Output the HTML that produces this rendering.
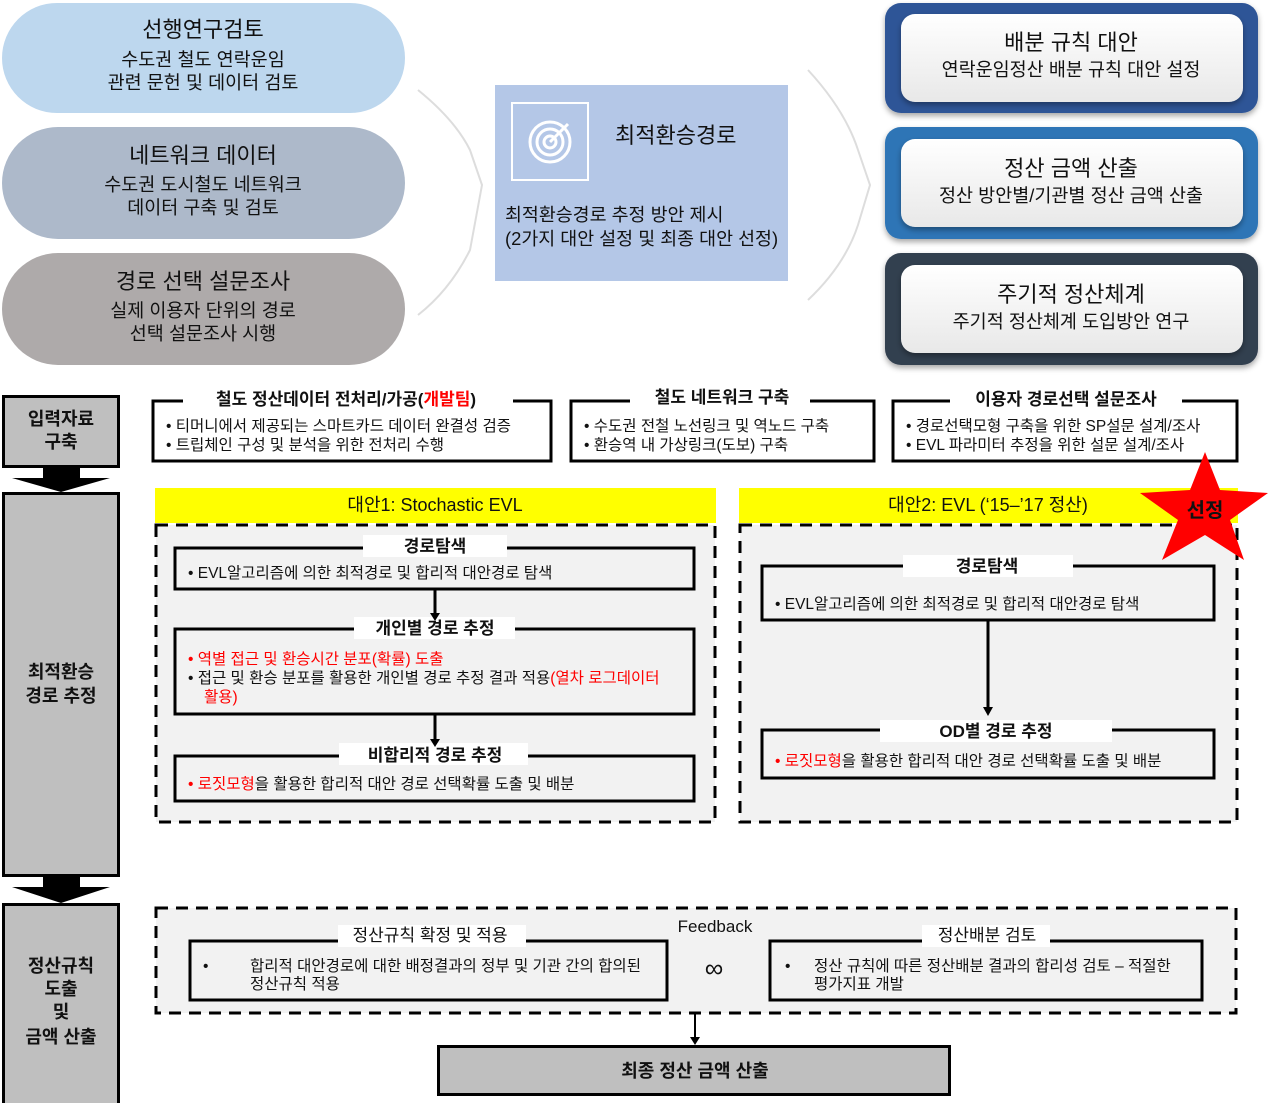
<!DOCTYPE html>
<html><head><meta charset="utf-8"><style>
body{margin:0;background:#fff}
svg{display:block;font-family:"Liberation Sans","Noto Sans CJK KR",sans-serif}
</style></head><body>
<svg width="1271" height="1103" viewBox="0 0 1271 1103" xmlns="http://www.w3.org/2000/svg">
<defs>
<filter id="sh" x="-10%" y="-10%" width="120%" height="130%"><feDropShadow dx="0" dy="3" stdDeviation="3" flood-color="#000" flood-opacity="0.35"/></filter>
<linearGradient id="wg" x1="0" y1="0" x2="0" y2="1"><stop offset="0" stop-color="#ffffff"/><stop offset="1" stop-color="#e8e8e8"/></linearGradient>
</defs>
<rect x="2" y="3" width="403" height="110" rx="55" fill="#bdd7ee"/>
<rect x="2" y="127" width="403" height="112" rx="56" fill="#adb9ca"/>
<rect x="2" y="253" width="403" height="112" rx="56" fill="#aeaaaa"/>
<g text-anchor="middle" fill="#111">
<text x="203" y="37" font-size="22">선행연구검토</text>
<text x="203" y="66" font-size="18.5">수도권 철도 연락운임</text>
<text x="203" y="89" font-size="18.5">관련 문헌 및 데이터 검토</text>
<text x="203" y="163" font-size="22">네트워크 데이터</text>
<text x="203" y="191" font-size="18.5">수도권 도시철도 네트워크</text>
<text x="203" y="214" font-size="18.5">데이터 구축 및 검토</text>
<text x="203" y="289" font-size="22">경로 선택 설문조사</text>
<text x="203" y="317" font-size="18.5">실제 이용자 단위의 경로</text>
<text x="203" y="340" font-size="18.5">선택 설문조사 시행</text>
</g>
<path d="M418 90 Q455 120 470 150 L482 185 L470 250 Q450 290 418 315" fill="none" stroke="#ddd" stroke-width="2"/>
<path d="M808 70 Q845 110 858 150 L870 185 L858 225 Q845 265 808 300" fill="none" stroke="#ddd" stroke-width="2"/>
<rect x="495" y="85" width="293" height="196" fill="#b4c7e7"/>
<rect x="512" y="103" width="76" height="77" fill="none" stroke="#fff" stroke-width="2"/>
<g fill="none" stroke="#fff" stroke-width="3"><circle cx="550" cy="142" r="20"/><circle cx="550" cy="142" r="13"/><circle cx="550" cy="142" r="6"/></g>
<line x1="550" y1="142" x2="568" y2="124" stroke="#fff" stroke-width="3"/>
<text x="615" y="143" font-size="22" fill="#111">최적환승경로</text>
<text x="505" y="221" font-size="18.4" fill="#111">최적환승경로 추정 방안 제시</text>
<text x="505" y="245" font-size="18.4" fill="#111">(2가지 대안 설정 및 최종 대안 선정)</text>
<rect x="885" y="3" width="373" height="110" rx="16" fill="#2f5597" filter="url(#sh)"/>
<rect x="885" y="127" width="373" height="112" rx="16" fill="#2e75b6" filter="url(#sh)"/>
<rect x="885" y="253" width="373" height="112" rx="16" fill="#333f50" filter="url(#sh)"/>
<rect x="901" y="14" width="342" height="88" rx="14" fill="url(#wg)" filter="url(#sh)"/>
<rect x="901" y="139" width="342" height="88" rx="14" fill="url(#wg)" filter="url(#sh)"/>
<rect x="901" y="265" width="342" height="88" rx="14" fill="url(#wg)" filter="url(#sh)"/>
<g text-anchor="middle" fill="#111">
<text x="1071" y="50" font-size="22">배분 규칙 대안</text>
<text x="1071" y="76" font-size="18.5">연락운임정산 배분 규칙 대안 설정</text>
<text x="1071" y="176" font-size="22">정산 금액 산출</text>
<text x="1071" y="202" font-size="18.5">정산 방안별/기관별 정산 금액 산출</text>
<text x="1071" y="302" font-size="22">주기적 정산체계</text>
<text x="1071" y="328" font-size="18.5">주기적 정산체계 도입방안 연구</text>
</g>
<rect x="3.5" y="396.5" width="115" height="70" fill="#bfbfbf" stroke="#000" stroke-width="3"/>
<rect x="3.5" y="493.5" width="115" height="382" fill="#bfbfbf" stroke="#000" stroke-width="3"/>
<rect x="3.5" y="904.5" width="115" height="200" fill="#bfbfbf" stroke="#000" stroke-width="3"/>
<path d="M43 467 H80 V478 H110 L61 492 L12 478 H43Z" fill="#000"/>
<path d="M43 877 H80 V887 H110 L61 903 L12 887 H43Z" fill="#000"/>
<g text-anchor="middle" font-size="18" fill="#111" font-weight="bold">
<text x="61" y="425">입력자료</text><text x="61" y="448">구축</text>
<text x="61" y="678">최적환승</text><text x="61" y="702">경로 추정</text>
<text x="61" y="972">정산규칙</text><text x="61" y="995">도출</text><text x="61" y="1018">및</text><text x="61" y="1043">금액 산출</text>
</g>
<g fill="none" stroke="#000" stroke-width="3">
<rect x="153" y="401" width="398" height="60"/>
<rect x="571" y="401" width="303" height="60"/>
<rect x="893" y="401" width="344" height="60"/>
</g>
<rect x="183" y="388" width="330" height="22" fill="#fff"/>
<rect x="630" y="386" width="180" height="22" fill="#fff"/>
<rect x="950" y="388" width="232" height="22" fill="#fff"/>
<g font-size="17" fill="#111" font-weight="bold" text-anchor="middle">
<text x="346" y="405">철도 정산데이터 전처리/가공(<tspan fill="#ff0000">개발팀</tspan>)</text>
<text x="722" y="403">철도 네트워크 구축</text>
<text x="1066" y="405">이용자 경로선택 설문조사</text>
</g>
<g font-size="15.5" fill="#111">
<text x="166" y="431">•  티머니에서 제공되는 스마트카드 데이터 완결성 검증</text>
<text x="166" y="450">•  트립체인 구성 및 분석을 위한 전처리 수행</text>
<text x="584" y="431">•  수도권 전철 노선링크 및 역노드 구축</text>
<text x="584" y="450">•  환승역 내 가상링크(도보) 구축</text>
<text x="906" y="431">•  경로선택모형 구축을 위한 SP설문 설계/조사</text>
<text x="906" y="450">•  EVL 파라미터 추정을 위한 설문 설계/조사</text>
</g>
<rect x="155" y="488" width="561" height="35" fill="#ffff00"/>
<rect x="739" y="488" width="499" height="35" fill="#ffff00"/>
<text x="435" y="511" font-size="18" text-anchor="middle" fill="#111">대안1: Stochastic EVL</text>
<text x="988" y="511" font-size="18" text-anchor="middle" fill="#111">대안2: EVL (‘15–’17 정산)</text>
<g fill="#f2f2f2" stroke="#000" stroke-width="3" stroke-dasharray="12 8">
<rect x="156" y="525" width="559" height="297"/>
<rect x="740" y="525" width="497" height="297"/>
<rect x="156" y="908" width="1080" height="105"/>
</g>
<g fill="none" stroke="#000" stroke-width="3">
<rect x="175" y="548" width="519" height="41"/>
<rect x="175" y="629" width="519" height="85"/>
<rect x="175" y="756" width="519" height="45"/>
<rect x="762" y="566" width="452" height="54"/>
<rect x="762" y="730" width="452" height="48"/>
<rect x="190" y="941" width="477" height="59"/>
<rect x="770" y="941" width="432" height="59"/>
</g>
<g fill="#fff">
<rect x="363" y="535" width="144" height="22"/>
<rect x="354" y="617" width="161" height="22"/>
<rect x="339" y="743" width="189" height="22"/>
<rect x="903" y="555" width="170" height="22"/>
<rect x="880" y="720" width="232" height="22"/>
<rect x="338" y="925" width="188" height="22"/>
<rect x="922" y="925" width="128" height="22"/>
</g>
<g font-size="17" fill="#111" font-weight="bold" text-anchor="middle">
<text x="435" y="552">경로탐색</text>
<text x="435" y="634">개인별 경로 추정</text>
<text x="435" y="761">비합리적 경로 추정</text>
<text x="987" y="572">경로탐색</text>
<text x="996" y="737">OD별 경로 추정</text>
<text x="430" y="941" font-weight="normal">정산규칙 확정 및 적용</text>
<text x="987" y="941" font-weight="normal">정산배분 검토</text>
</g>
<g font-size="15.5" fill="#111">
<text x="188" y="578">•  EVL알고리즘에 의한 최적경로 및 합리적 대안경로 탐색</text>
<text x="188" y="664" fill="#ff0000">•  역별 접근 및 환승시간 분포(확률) 도출</text>
<text x="188" y="683">•  접근 및 환승 분포를 활용한 개인별 경로 추정 결과 적용<tspan fill="#ff0000">(열차 로그데이터</tspan></text>
<text x="204" y="702" fill="#ff0000">활용)</text>
<text x="188" y="789"><tspan fill="#ff0000">•  로짓모형</tspan>을 활용한 합리적 대안 경로 선택확률 도출 및 배분</text>
<text x="775" y="609">•  EVL알고리즘에 의한 최적경로 및 합리적 대안경로 탐색</text>
<text x="775" y="766"><tspan fill="#ff0000">•  로짓모형</tspan>을 활용한 합리적 대안 경로 선택확률 도출 및 배분</text>
<text x="203" y="971">•</text>
<text x="250" y="971">합리적 대안경로에 대한 배정결과의 정부 및 기관 간의 합의된</text>
<text x="250" y="989">정산규칙 적용</text>
<text x="785" y="971">•</text>
<text x="814" y="971">정산 규칙에 따른 정산배분 결과의 합리성 검토 – 적절한</text>
<text x="814" y="989">평가지표 개발</text>
</g>
<g stroke="#000" stroke-width="3">
<line x1="435" y1="589" x2="435" y2="614"/>
<line x1="435" y1="714" x2="435" y2="740"/>
<line x1="988" y1="620" x2="988" y2="708"/>
<line x1="695" y1="1013" x2="695" y2="1038" stroke-width="2"/>
</g>
<g fill="#000">
<path d="M430 613 L440 613 L435 621Z"/>
<path d="M430 739 L440 739 L435 747Z"/>
<path d="M983 707 L993 707 L988 716Z"/>
<path d="M690 1037 L700 1037 L695 1045Z"/>
</g>
<text x="715" y="932" font-size="17" text-anchor="middle" fill="#111">Feedback</text>
<text x="714" y="977" font-size="26" text-anchor="middle" fill="#111">∞</text>
<rect x="438.5" y="1046.5" width="511" height="48" fill="#bfbfbf" stroke="#000" stroke-width="3"/>
<text x="695" y="1077" font-size="18" text-anchor="middle" font-weight="bold" fill="#111">최종 정산 금액 산출</text>
<polygon points="1205,452 1220,490 1268,493 1230,520 1244,560 1205,535 1162,560 1178,520 1140,493 1190,490" fill="#ff0000"/>
<text x="1205" y="517" font-size="20" font-weight="bold" text-anchor="middle" fill="#111">선정</text>
</svg>
</body></html>
